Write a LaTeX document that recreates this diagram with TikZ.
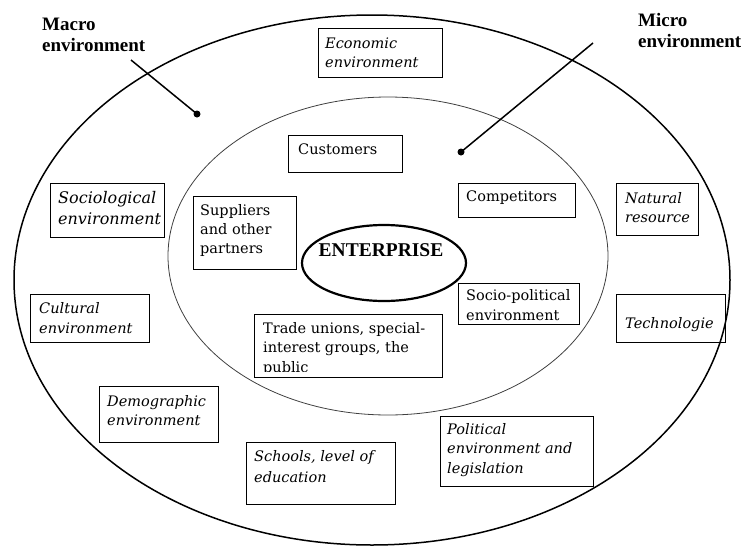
\documentclass[tikz,border=0pt]{standalone}
\usepackage{fontspec}
\setmainfont{DejaVu Serif}
\newfontfamily\tnr{Liberation Serif}
\usetikzlibrary{shapes.geometric}
\begin{document}
\begin{tikzpicture}[x=1pt,y=-1pt,
  ring/.style={draw=black, ellipse, inner sep=0pt, line width=1.5pt},
  innerring/.style={draw=black!75, ellipse, inner sep=0pt, line width=0.8pt},
  entring/.style={draw=black, ellipse, inner sep=0pt, line width=2.2pt},
  envbox/.style={draw=black, rectangle, inner sep=0pt, line width=0.9pt, anchor=north west},
  boxtxt/.style={anchor=base west, inner sep=0pt, align=left, font=\fontsize{14.5}{19.5}\selectfont},
  itbox/.style={boxtxt, font=\fontsize{14.5}{19.5}\selectfont\itshape},
  lbl/.style={anchor=base west, inner sep=0pt, align=left, font=\tnr\bfseries\fontsize{19}{21}\selectfont},
  pointer/.style={draw=black, line width=1.5pt},
  dotnode/.style={circle, fill=black, inner sep=0pt, minimum size=7pt}
]
\useasboundingbox (0,0) rectangle (748,547);

% rings
\node[ring, minimum width=716pt, minimum height=530pt] (outer) at (372,280) {};
\node[innerring, minimum width=440pt, minimum height=318pt] (inner) at (388,256) {};
\node[entring, minimum width=164pt, minimum height=76pt] (ent) at (384,263) {};
\node[anchor=base, inner sep=0pt, font=\tnr\bfseries\fontsize{19.5}{21}\selectfont] (ent-t) at (381,256) {ENTERPRISE};

% labels and pointers (base anchor = baseline of last line)
\node[lbl] (macro) at (42,51) {Macro\\environment};
\node[lbl] (micro) at (638,47) {Micro\\environment};
\coordinate (macro-tail) at (131,60);
\node[dotnode] (macro-dot) at (197,114) {};
\draw[pointer] (macro-tail) -- (macro-dot.center);
\coordinate (micro-tail) at (593,43);
\node[dotnode] (micro-dot) at (461,152) {};
\draw[pointer] (micro-tail) -- (micro-dot.center);

% macro environment boxes
\node[envbox, minimum width=124pt, minimum height=49pt] (eco) at (318,28) {};
\node[itbox, font=\fontsize{14.5}{19}\selectfont\itshape] (eco-t) at (325,67) {Economic\\environment};

\node[envbox, minimum width=114pt, minimum height=54pt] (soc) at (50,183) {};
\node[itbox, font=\fontsize{16}{21}\selectfont\itshape] (soc-t) at (58,224) {Sociological\\environment};

\node[envbox, minimum width=119pt, minimum height=48pt] (cul) at (30,294) {};
\node[itbox, font=\fontsize{14.5}{20}\selectfont\itshape] (cul-t) at (39,333) {Cultural\\environment};

\node[envbox, minimum width=119pt, minimum height=56pt] (dem) at (99,386) {};
\node[itbox, font=\fontsize{14.5}{19}\selectfont\itshape] (dem-t) at (107,425) {Demographic\\environment};

\node[envbox, minimum width=149pt, minimum height=62pt] (sch) at (246,442) {};
\node[itbox, font=\fontsize{14.5}{21}\selectfont\itshape] (sch-t) at (254,482) {Schools, level of\\education};

\node[envbox, minimum width=153pt, minimum height=70pt] (pol) at (440,416) {};
\node[itbox] (pol-t) at (447,473) {Political\\environment and\\legislation};

\node[envbox, minimum width=82pt, minimum height=52pt] (nat) at (616,183) {};
\node[itbox, font=\fontsize{14.5}{19}\selectfont\itshape] (nat-t) at (625,222) {Natural\\resource};

\node[envbox, minimum width=109pt, minimum height=48pt] (tec) at (616,294) {};
\node[itbox] (tec-t) at (625,328) {Technologie};

% micro environment boxes
\node[envbox, minimum width=114pt, minimum height=37pt] (cus) at (288,135) {};
\node[boxtxt] (cus-t) at (298,154) {Customers};

\node[envbox, minimum width=103pt, minimum height=73pt] (sup) at (193,196) {};
\node[boxtxt, font=\fontsize{14.5}{19}\selectfont] (sup-t) at (200,253) {Suppliers\\and other\\partners};

\node[envbox, minimum width=117pt, minimum height=34pt] (com) at (458,183) {};
\node[boxtxt] (com-t) at (466,201) {Competitors};

\node[envbox, minimum width=121pt, minimum height=41pt] (spo) at (458,283) {};
\node[boxtxt, font=\fontsize{14.5}{20}\selectfont] (spo-t) at (466,320) {Socio-political\\environment};

\node[envbox, minimum width=188pt, minimum height=63pt] (tra) at (254,314) {};
\begin{scope}
  \clip (254,314) rectangle (442,371);
  \node[boxtxt] (tra-t) at (263,372) {Trade unions, special-\\interest groups, the\\public};
\end{scope}
\end{tikzpicture}
\end{document}
